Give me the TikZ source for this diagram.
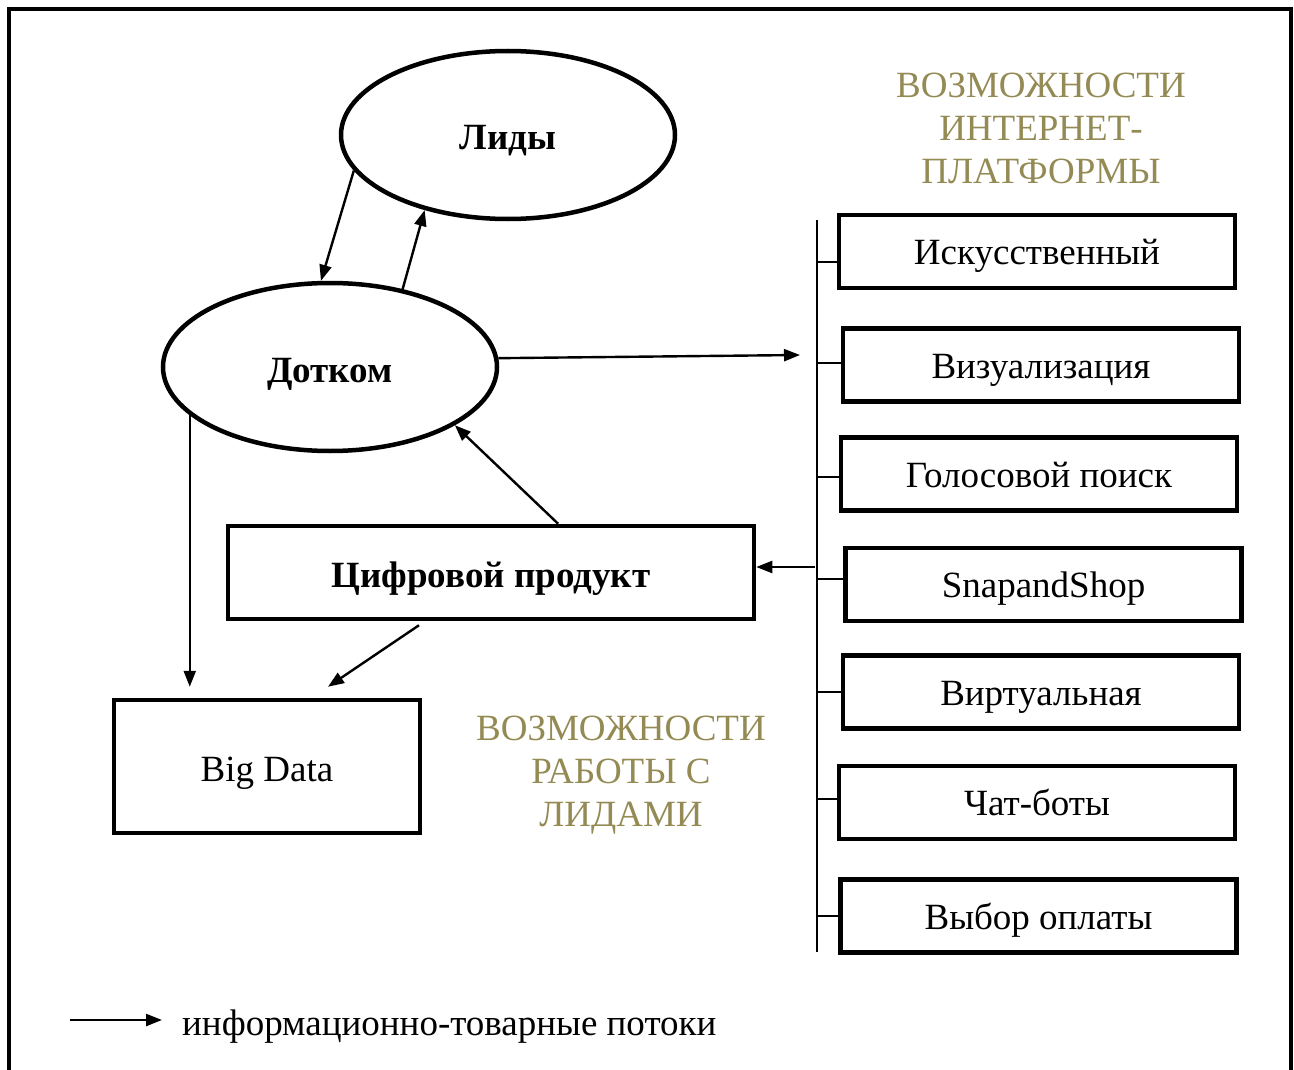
\documentclass[tikz,border=0pt]{standalone}
\usepackage{fontspec}
\setmainfont{Liberation Serif}
\usetikzlibrary{shapes.geometric,arrows.meta,calc}
\definecolor{olivetext}{RGB}{148,138,84}
\begin{document}
\begin{tikzpicture}[x=1pt,y=-1pt,
  ell/.style={ellipse,draw,line width=4.5pt,minimum width=334pt,minimum height=168pt,inner sep=0pt,text height=30pt,text depth=0pt,font=\fontsize{37}{43}\selectfont\bfseries},
  mainbox/.style={rectangle,draw,line width=4.5pt,inner sep=0pt,text height=30pt,text depth=0pt,font=\fontsize{37}{43}\selectfont},
  sidebox/.style={rectangle,draw,line width=4.5pt,minimum width=396pt,minimum height=73pt,inner sep=0pt,text height=26pt,text depth=0pt,font=\fontsize{37}{43}\selectfont},
  flow/.style={line width=2.4pt,-{Triangle[length=16pt,width=12pt]}},
  thin/.style={line width=2pt},
  olive/.style={align=center,text=olivetext,font=\fontsize{37}{43}\selectfont,inner sep=0pt}]
\useasboundingbox (0,0) rectangle (1294,1070);
\fill[white] (0,0) rectangle (1294,1070);
\draw[line width=4.5pt] (9,1080) -- (9,9) -- (1291,9) -- (1291,1080);

\node[ell] (lidy) at (508,135) {Лиды};
\node[ell] (dotcom) at (330,367) {Дотком};

\node[mainbox,minimum width=526pt,minimum height=93pt,font=\fontsize{37}{43}\selectfont\bfseries] (cif) at (491,572.5) {Цифровой продукт};
\node[mainbox,minimum width=306pt,minimum height=133pt] (bigdata) at (267,766.5) {Big Data};

\node[sidebox] (b1) at (1037,251.5) {Искусственный};
\node[sidebox] (b2) at (1041,365) {Визуализация};
\node[sidebox] (b3) at (1039,474) {Голосовой поиск};
\node[sidebox] (b4) at (1043.5,584.5) {SnapandShop};
\node[sidebox] (b5) at (1041,692) {Виртуальная};
\node[sidebox] (b6) at (1037,802.5) {Чат-боты};
\node[sidebox] (b7) at (1038.5,916) {Выбор оплаты};

\node[olive] (t1) at (1041,128) {ВОЗМОЖНОСТИ\\ИНТЕРНЕТ-\\ПЛАТФОРМЫ};
\node[olive] (t2) at (621,775) {ВОЗМОЖНОСТИ\\РАБОТЫ С\\ЛИДАМИ};

% bracket
\coordinate (vtop) at (817,220);
\coordinate (vbot) at (817,952);
\draw[thin] (vtop) -- (vbot);
\coordinate (k1) at (817,262);
\coordinate (k2) at (817,363);
\coordinate (k3) at (817,477);
\coordinate (k4) at (817,579);
\coordinate (k5) at (817,692);
\coordinate (k6) at (817,799);
\coordinate (k7) at (817,916);
\draw[thin] (k1) -- (k1 -| b1.west);
\draw[thin] (k2) -- (k2 -| b2.west);
\draw[thin] (k3) -- (k3 -| b3.west);
\draw[thin] (k4) -- (k4 -| b4.west);
\draw[thin] (k5) -- (k5 -| b5.west);
\draw[thin] (k6) -- (k6 -| b6.west);
\draw[thin] (k7) -- (k7 -| b7.west);

% arrows
\draw[flow] (lidy.193.5) -- (dotcom.96);
\draw[flow] (dotcom.47.6) -- (lidy.222.5);
\coordinate (rin) at (800,355);
\draw[flow] (dotcom.3.4) -- (rin);
\draw[flow] (cif.36) -- (dotcom.-25);
\coordinate (kin) at (815,567);
\draw[flow] (kin) -- (kin -| cif.east);
\draw[flow,shorten >=11pt] (dotcom.199.5) -- (dotcom.199.5 |- bigdata.north);
\coordinate (cs) at ($(cif.south)+(-72,4)$);
\coordinate (be) at ($(bigdata.north)+(61,-11)$);
\draw[flow] (cs) -- (be);

% legend
\coordinate (la) at (70,1020);
\coordinate (lb) at (162,1020);
\draw[flow] (la) -- (lb);
\node[anchor=west,inner sep=0pt,font=\fontsize{37}{43}\selectfont] (leg) at (182,1027) {информационно-товарные потоки};
\end{tikzpicture}
\end{document}
